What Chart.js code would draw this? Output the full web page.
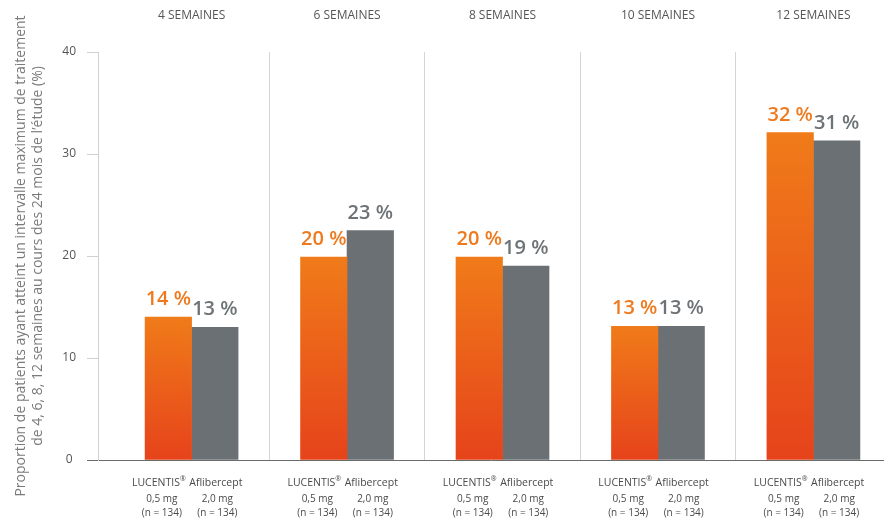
<!DOCTYPE html>
<html>
<head>
<meta charset="utf-8">
<script src="https://cdn.jsdelivr.net/npm/chart.js@4/dist/chart.umd.min.js"></script>
<style>
  html, body { margin: 0; padding: 0; background: #ffffff; overflow: hidden; }
  #wrap { position: relative; width: 884px; height: 524px; }
</style>
</head>
<body>
<div id="wrap"><canvas id="c" width="884" height="524"></canvas></div>
<script>
// ---- data ----
const categories = ['4 SEMAINES', '6 SEMAINES', '8 SEMAINES', '10 SEMAINES', '12 SEMAINES'];
const lucentisValues = [14, 19.9, 19.9, 13.1, 32.1];
const afliberceptValues = [13, 22.5, 19, 13.1, 31.3];
const lucentisLabels = [14, 20, 20, 13, 32];
const afliberceptLabels = [13, 23, 19, 13, 31];
const seriesNames = ['LUCENTIS', 'Aflibercept'];
const seriesMarks = ['\u00AE', ''];
const seriesDoses = ['0,5 mg', '2,0 mg'];
const seriesN = ['(n = 134)', '(n = 134)'];
const yTicks = [0, 10, 20, 30, 40];
const yTitle = ['Proportion de patients ayant atteint un intervalle maximum de traitement',
                'de 4, 6, 8, 12 semaines au cours des 24 mois de l\u2019\u00E9tude (%)'];

const FONT = '"Open Sans", "Noto Sans", sans-serif';
const X_MIN = -0.602, X_MAX = 4.454;

function orangeGradient(ctx) {
  const chart = ctx.chart;
  const y = chart.scales && chart.scales.y;
  if (!y || !chart.chartArea || ctx.type !== 'data' || !ctx.parsed) return '#ec5f1a';
  const top = y.getPixelForValue(ctx.parsed.y);
  const bottom = y.getPixelForValue(0);
  if (!isFinite(top) || !isFinite(bottom) || top === bottom) return '#ec5f1a';
  const g = chart.ctx.createLinearGradient(0, top, 0, bottom);
  g.addColorStop(0, '#f07b19');
  g.addColorStop(1, '#e6431b');
  return g;
}

const labelPlugin = {
  id: 'labelPlugin',
  afterDatasetsDraw(chart) {
    const c = chart.ctx;
    const labelSets = [lucentisLabels, afliberceptLabels];
    const colors = ['#ef7a1e', '#6d7376'];
    const nameOffsets = [-9.5, 1];
    const colOffsets = [-6.5, 2.5];
    chart.data.datasets.forEach((ds, di) => {
      const meta = chart.getDatasetMeta(di);
      meta.data.forEach((el, i) => {
        c.save();
        c.font = '600 20px ' + FONT;
        c.fillStyle = colors[di];
        c.textAlign = 'center';
        c.textBaseline = 'alphabetic';
        c.fillText(labelSets[di][i] + ' %', el.x, el.y - 12);
        const base = chart.scales.y.getPixelForValue(0);
        c.fillStyle = '#4a4a4a';
        c.font = '10.5px ' + FONT;
        const wName = c.measureText(seriesNames[di]).width;
        c.font = '7px ' + FONT;
        const wMark = seriesMarks[di] ? c.measureText(seriesMarks[di]).width : 0;
        const nx = el.x + nameOffsets[di] - (wName + wMark) / 2;
        c.textAlign = 'left';
        c.textBaseline = 'middle';
        c.font = '10.5px ' + FONT;
        c.fillText(seriesNames[di], nx, base + 23);
        if (wMark) {
          c.font = '7px ' + FONT;
          c.fillText(seriesMarks[di], nx + wName, base + 19);
        }
        c.textAlign = 'center';
        c.font = '10px ' + FONT;
        const bx = el.x + colOffsets[di];
        c.fillText(seriesDoses[di], bx, base + 39);
        c.fillText(seriesN[di], bx, base + 53);
        c.restore();
      });
    });
  }
};

new Chart(document.getElementById('c'), {
  type: 'bar',
  data: {
    datasets: [
      {
        label: seriesNames[0],
        data: lucentisValues.map((v, i) => ({ x: i, y: v })),
        backgroundColor: orangeGradient,
        barThickness: 46.5,
        borderWidth: 0
      },
      {
        label: seriesNames[1],
        data: afliberceptValues.map((v, i) => ({ x: i, y: v })),
        backgroundColor: '#6a7073',
        barThickness: 46.5,
        borderWidth: 0
      }
    ]
  },
  options: {
    responsive: false,
    animation: false,
    devicePixelRatio: 1,
    layout: { padding: { top: 8, left: 0, right: 0, bottom: 64 } },
    plugins: { legend: { display: false }, tooltip: { enabled: false } },
    scales: {
      x: {
        type: 'linear',
        position: 'bottom',
        offset: false,
        min: X_MIN, max: X_MAX,
        afterBuildTicks: (s) => { s.ticks = categories.slice(1).map((_, i) => ({ value: i + 0.5 })); },
        afterFit: (s) => { s.height = 0; },
        ticks: { display: false },
        grid: { offset: false, color: '#d4d4d4', lineWidth: 1, drawTicks: false },
        border: { display: false }
      },
      x2: {
        type: 'linear',
        position: 'top',
        offset: false,
        min: X_MIN, max: X_MAX,
        afterBuildTicks: (s) => { s.ticks = categories.map((_, i) => ({ value: i })); },
        afterFit: (s) => { s.height = 44; },
        ticks: {
          autoSkip: false, maxRotation: 0, padding: 29,
          color: '#555555',
          font: { family: FONT, size: 12 },
          callback: (v, i) => categories[i]
        },
        grid: { display: false, offset: false, drawTicks: false },
        border: { display: false }
      },
      y: {
        min: 0, max: 40,
        afterBuildTicks: (s) => { s.ticks = yTicks.map(v => ({ value: v })); },
        afterFit: (s) => { s.width = 98; },
        ticks: {
          padding: 11, crossAlign: 'center',
          color: '#555555',
          font: { family: FONT, size: 12 }
        },
        grid: {
          tickLength: 11,
          color: (ctx) => (ctx.tick && ctx.tick.value === 0) ? '#6b6b6b' : 'rgba(0,0,0,0)',
          tickColor: (ctx) => (ctx.tick && ctx.tick.value === 0) ? '#6b6b6b' : '#d0d0d0'
        },
        border: { display: true, color: '#d0d0d0', width: 1 },
        title: {
          display: true,
          text: yTitle,
          color: '#7a7a7a',
          font: { family: FONT, size: 14 },
          padding: { top: 13, bottom: 0 }
        }
      }
    }
  },
  plugins: [labelPlugin]
});
</script>
</body>
</html>
